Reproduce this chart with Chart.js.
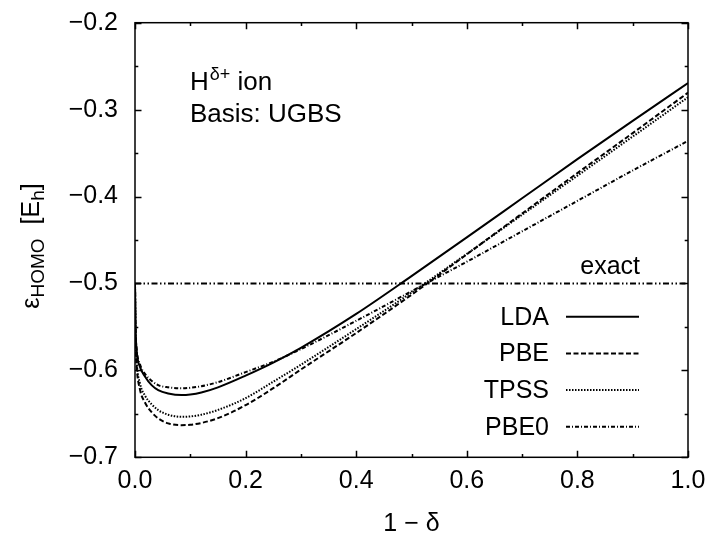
<!DOCTYPE html>
<html>
<head>
<meta charset="utf-8">
<script src="https://cdn.jsdelivr.net/npm/chart.js@4.4.1/dist/chart.umd.min.js"></script>
<style>
  html, body { margin: 0; padding: 0; background: #fff; }
</style>
</head>
<body>
<canvas id="c" width="709" height="535"></canvas>
<script>
// 1 - delta values shared by every functional curve
const xValues = [0, 0.001, 0.003, 0.009, 0.018, 0.03, 0.042, 0.06, 0.084, 0.1, 0.12, 0.15, 0.2, 0.25, 0.3, 0.4, 0.5, 0.6, 0.7, 0.8, 0.9, 1.0];

// HOMO eigenvalues (Hartree) for each functional
const ldaValues  = [-0.5, -0.55, -0.577, -0.596, -0.607, -0.617, -0.6227, -0.6265, -0.6284, -0.6278, -0.6255, -0.6195, -0.606, -0.591, -0.574, -0.535, -0.4915, -0.447, -0.402, -0.357, -0.313, -0.2694];
const pbeValues  = [-0.5, -0.565, -0.595, -0.622, -0.637, -0.648, -0.6552, -0.661, -0.663, -0.6626, -0.6605, -0.655, -0.640, -0.6205, -0.599, -0.557, -0.513, -0.4665, -0.4195, -0.373, -0.327, -0.2805];
const tpssValues = [-0.5, -0.56, -0.59, -0.615, -0.629, -0.639, -0.6457, -0.651, -0.6534, -0.653, -0.651, -0.6455, -0.632, -0.613, -0.5935, -0.5525, -0.5105, -0.466, -0.421, -0.376, -0.331, -0.2858];
const pbe0Values = [-0.5, -0.55, -0.575, -0.593, -0.604, -0.612, -0.617, -0.6195, -0.6207, -0.620, -0.6182, -0.6135, -0.602, -0.590, -0.5755, -0.543, -0.509, -0.475, -0.440, -0.405, -0.370, -0.336];

// exact HOMO energy of the hydrogen atom
const exactX = [0, 1];
const exactValues = [-0.5, -0.5];

// axis ticks
const xTicks = [0.0, 0.2, 0.4, 0.6, 0.8, 1.0];
const yTicks = [-0.7, -0.6, -0.5, -0.4, -0.3, -0.2];

const FONT = '"Liberation Sans", Arial, Helvetica, sans-serif';
const FS = 25;

const pts = (xs, ys) => xs.map((x, i) => ({ x: x, y: ys[i] }));
const fmt = v => (Math.abs(v) < 1e-9 ? 0 : v).toFixed(1).replace('-', '\u2212');

function curve(label, data, dash, inKey) {
  return {
    label: label,
    data: data,
    borderColor: '#000',
    borderWidth: 2,
    borderDash: dash,
    pointRadius: 0,
    fill: false,
    cubicInterpolationMode: 'monotone',
    inKey: inKey
  };
}

function noPadding(s) {
  s.paddingTop = 0; s.paddingBottom = 0; s.paddingLeft = 0; s.paddingRight = 0;
}

// frame with inward major/minor ticks on all four sides
const framePlugin = {
  id: 'frame',
  afterDatasetsDraw(chart) {
    const { ctx, chartArea: a, scales } = chart;
    const xs = scales.x, ys = scales.y;
    ctx.save();
    ctx.strokeStyle = '#000';
    ctx.lineWidth = 1.5;
    ctx.setLineDash([]);
    ctx.strokeRect(a.left, a.top, a.right - a.left, a.bottom - a.top);
    const major = 6.5, minor = 3.3;
    ctx.beginPath();
    for (let k = 0; k <= 10; k++) {
      const v = k * 0.1;
      const px = Math.round(xs.getPixelForValue(v)) + 0.5;
      const len = (k % 2 === 0) ? major : minor;
      ctx.moveTo(px, a.bottom); ctx.lineTo(px, a.bottom - len);
      ctx.moveTo(px, a.top); ctx.lineTo(px, a.top + len);
    }
    for (let k = 0; k <= 10; k++) {
      const v = -0.7 + k * 0.05;
      const py = Math.round(ys.getPixelForValue(v)) + 0.5;
      const len = (k % 2 === 0) ? major : minor;
      ctx.moveTo(a.left, py); ctx.lineTo(a.left + len, py);
      ctx.moveTo(a.right, py); ctx.lineTo(a.right - len, py);
    }
    ctx.stroke();
    ctx.restore();
  }
};

// key: label right-aligned, line sample to its right
const keyPlugin = {
  id: 'key',
  afterDraw(chart) {
    const { ctx } = chart;
    const xs = chart.scales.x, ys = chart.scales.y;
    ctx.save();
    ctx.font = FS + 'px ' + FONT;
    ctx.fillStyle = '#000';
    ctx.textBaseline = 'middle';
    ctx.textAlign = 'right';
    const textRight = 549, sx0 = 566, sx1 = 639;
    let row = 0;
    chart.data.datasets.forEach(ds => {
      if (!ds.inKey) return;
      const y = 316.7 + row * 36.7;
      ctx.fillText(ds.label, textRight, y + 1);
      ctx.beginPath();
      ctx.lineWidth = ds.borderWidth;
      ctx.setLineDash(ds.borderDash || []);
      ctx.strokeStyle = ds.borderColor;
      ctx.moveTo(sx0, y); ctx.lineTo(sx1, y);
      ctx.stroke();
      row++;
    });
    ctx.setLineDash([]);
    // label on the exact line
    ctx.textBaseline = 'alphabetic';
    ctx.fillText('exact', xs.getPixelForValue(1) - 48, ys.getPixelForValue(-0.5) - 9);

    // system description
    ctx.textAlign = 'left';
    const ax = chart.chartArea.left + 55;
    ctx.font = '26px ' + FONT;
    ctx.fillText('H', ax, 90);
    const hw = ctx.measureText('H').width;
    ctx.font = '18px ' + FONT;
    ctx.fillText('\u03b4+', ax + hw + 1, 80);
    const sw = ctx.measureText('\u03b4+').width;
    ctx.font = '26px ' + FONT;
    ctx.fillText(' ion', ax + hw + 1 + sw, 90);
    ctx.fillText('Basis: UGBS', ax, 122);

    // y-axis title with subscripts, rotated
    const parts = [
      { t: '\u03b5', f: FS, dy: 0 },
      { t: 'HOMO', f: 19, dy: 5 },
      { t: '  [E', f: FS, dy: 0 },
      { t: 'h', f: 19, dy: 5 },
      { t: ']', f: FS, dy: 0 }
    ];
    let total = 0;
    parts.forEach(p => { ctx.font = p.f + 'px ' + FONT; p.w = ctx.measureText(p.t).width; total += p.w; });
    ctx.translate(39, 246);
    ctx.rotate(-Math.PI / 2);
    let cx = -total / 2;
    parts.forEach(p => {
      ctx.font = p.f + 'px ' + FONT;
      ctx.fillText(p.t, cx, p.dy);
      cx += p.w;
    });
    ctx.restore();
  }
};

new Chart(document.getElementById('c'), {
  type: 'line',
  data: {
    datasets: [
      curve('exact', pts(exactX, exactValues), [6, 2.5, 1.5, 2.5, 1.5, 2.5], false),
      curve('LDA', pts(xValues, ldaValues), [], true),
      curve('PBE', pts(xValues, pbeValues), [5, 2.5], true),
      curve('TPSS', pts(xValues, tpssValues), [1.5, 1.5], true),
      curve('PBE0', pts(xValues, pbe0Values), [4, 2, 1, 2], true)
    ]
  },
  options: {
    responsive: false,
    animation: false,
    devicePixelRatio: 1,
    layout: { padding: { top: 22.7, right: 21, left: 0, bottom: 0 } },
    plugins: { legend: { display: false }, tooltip: { enabled: false } },
    scales: {
      x: {
        type: 'linear',
        min: 0, max: 1,
        afterBuildTicks: s => { s.ticks = xTicks.map(v => ({ value: v })); },
        afterFit: s => { s.height = 77.7; noPadding(s); },
        grid: { display: false, drawTicks: false },
        border: { display: false },
        ticks: { color: '#000', font: { family: FONT, size: FS }, padding: 9, maxRotation: 0, callback: fmt },
        title: { display: true, text: '1 \u2212 \u03b4', color: '#000', font: { family: FONT, size: FS }, padding: { top: 0, bottom: -4 } }
      },
      y: {
        type: 'linear',
        min: -0.7, max: -0.2,
        afterBuildTicks: s => { s.ticks = yTicks.map(v => ({ value: v })); },
        afterFit: s => { s.width = 135; noPadding(s); },
        grid: { display: false, drawTicks: false },
        border: { display: false },
        ticks: { color: '#000', font: { family: FONT, size: FS }, padding: 17, callback: fmt }
      }
    }
  },
  plugins: [framePlugin, keyPlugin]
});
</script>
</body>
</html>
